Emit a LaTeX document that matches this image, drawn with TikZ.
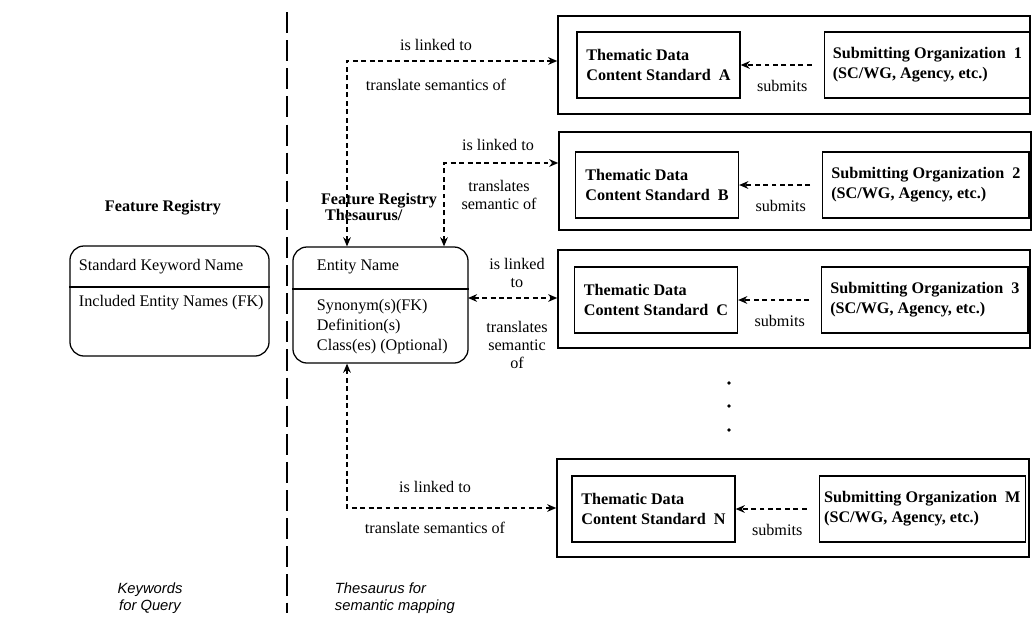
\documentclass[tikz,border=0pt]{standalone}
\usepackage{fontspec}
\setmainfont{Liberation Serif}
\setsansfont{Liberation Sans}
\usetikzlibrary{positioning,arrows.meta}

\begin{document}
\begin{tikzpicture}[x=0.025cm, y=-0.025cm,
	every node/.style={font=\fontsize{11.5}{14}\selectfont},
	frame/.style={draw, line width=1pt, minimum width=11.8cm, minimum height=2.45cm},
	theme/.style={draw, line width=0.9pt, align=left, font=\fontsize{11.5}{14}\selectfont\bfseries, minimum width=4.075cm, minimum height=1.65cm},
	org/.style={theme, minimum width=5.15cm},
	ebox/.style={draw, line width=0.9pt, rounded corners=0.35cm},
	link/.style={line width=0.85pt, dash pattern=on 3.5pt off 2.5pt, {Stealth[length=6.5pt,width=5.5pt]}-{Stealth[length=6.5pt,width=5.5pt]}},
	sub/.style={line width=0.85pt, dash pattern=on 3.5pt off 2.5pt, -{Stealth[length=6.5pt,width=5.5pt]}, shorten <=0.3cm},
	divider/.style={line width=1.2pt, dash pattern=on 15pt off 5pt},
	caption/.style={font=\sffamily\itshape\fontsize{10.5}{12.5}\selectfont, align=left},
	node distance=2.075cm]
	\useasboundingbox (0,0) rectangle (1032,626);

	% left: keywords
	\node[font=\fontsize{11.5}{14}\selectfont\bfseries] (hKey) at (163,208) {Feature Registry};
	\node[ebox, minimum width=4.975cm, minimum height=2.75cm] (key) at (169.5,301) {};
	\draw[line width=0.9pt] (key.west |- 0,287) -- (key.east |- 0,287);
	\node[anchor=west] (kName) at (74,267) {Standard Keyword Name};
	\node[anchor=west] (kInc) at (74,303) {Included Entity Names (FK)};

	\coordinate (dTop) at (287,12);
	\coordinate (dBot) at (287,613);
	\draw[divider] (dTop) -- (dBot);

	% thesaurus
	\node[ebox, minimum width=4.375cm, minimum height=2.9cm] (ent) at (380.5,305) {};
	\draw[line width=0.9pt] (ent.west |- 0,289) -- (ent.east |- 0,289);
	\node[anchor=west] (eName) at (312,267) {Entity Name};
	\node[anchor=west, align=left, font=\fontsize{11.5}{14.2}\selectfont] (eAttr) at (312,327) {Synonym(s)(FK)\\Definition(s)\\Class(es) (Optional)};
	\node[align=left, font=\fontsize{11.5}{12}\selectfont\bfseries] (hEnt) at (379,207) {Feature Registry\\\ Thesaurus/};

	% standards
	\node[frame] (cA) at (794,65) {};
	\node[frame] (cB) at (795,181) {};
	\node[frame] (cC) at (794,299) {};
	\node[frame] (cN) at (793,508) {};

	\node[theme] (tA) at (658.5,65) {Thematic Data\\Content Standard~~A};
	\node[org, right=of tA] (oA) {Submitting Organization~~1\\(SC/WG, Agency, etc.)};
	\node[theme] (tB) at (657,185) {Thematic Data\\Content Standard~~B};
	\node[org, right=of tB] (oB) {Submitting Organization~~2\\(SC/WG, Agency, etc.)};
	\node[theme] (tC) at (656,300) {Thematic Data\\Content Standard~~C};
	\node[org, right=of tC] (oC) {Submitting Organization~~3\\(SC/WG, Agency, etc.)};
	\node[theme] (tN) at (653.5,509) {Thematic Data\\Content Standard~~N};
	\node[org, right=of tN] (oN) {Submitting Organization~~M\\(SC/WG, Agency, etc.)};

	\draw[sub] (oA) -- node[below=7pt] (sA) {submits} (tA);
	\draw[sub] (oB) -- node[below=7pt] (sB) {submits} (tB);
	\draw[sub] (oC) -- node[below=7pt] (sC) {submits} (tC);
	\draw[sub] (oN) -- node[below=7pt] (sN) {submits} (tN);

	\fill (729,383) circle (1.3pt);
	\fill (729,406) circle (1.3pt);
	\fill (729,430) circle (1.3pt);

	% links
	\coordinate (k1) at (347,61);
	\coordinate (k2) at (444,163);
	\coordinate (k3) at (468,298);
	\coordinate (k4) at (347,508);
	\draw[link] (ent.north -| k1) -- (k1) -- (k1 -| cA.west);
	\draw[link] (ent.north -| k2) -- (k2) -- (k2 -| cB.west);
	\draw[link] (k3) -- (k3 -| cC.west);
	\draw[link] (ent.south -| k4) -- (k4) -- (k4 -| cN.west);

	\node (l1) at (436,45) {is linked to};
	\node (m1) at (436,85) {translate semantics of};
	\node (l2) at (498,145) {is linked to};
	\node[align=center, font=\fontsize{11.5}{13}\selectfont] (m2) at (499,195) {translates\\semantic of};
	\node[align=center, font=\fontsize{11.5}{13}\selectfont] (l3) at (517,273) {is linked\\to};
	\node[align=center, font=\fontsize{11.5}{13}\selectfont] (m3) at (517,345) {translates\\semantic\\of};
	\node (l4) at (435,487) {is linked to};
	\node (m4) at (435,528) {translate semantics of};

	% captions
	\node[caption, align=center] (cKey) at (150,598) {Keywords\\for Query};
	\node[caption, anchor=west] (cEnt) at (330,598) {Thesaurus for\\semantic mapping};
\end{tikzpicture}
\end{document}
